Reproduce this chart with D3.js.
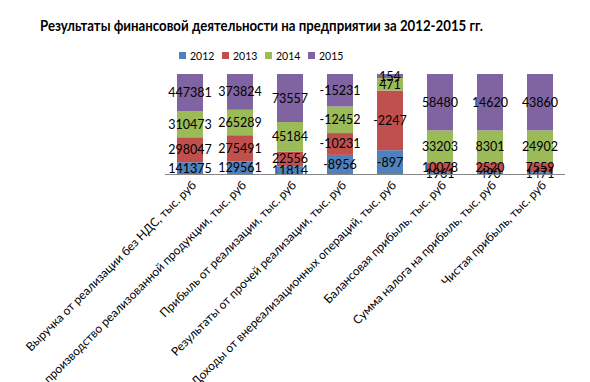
<!DOCTYPE html>
<html><head><meta charset="utf-8">
<script src="https://cdn.jsdelivr.net/npm/d3@7/dist/d3.min.js"></script>
<style>body{margin:0;background:#fff}svg{display:block}</style>
</head><body>
<svg id="c" width="590" height="382"></svg>
<script>
const categories = [
  "Выручка от реализации без НДС, тыс. руб",
  "Затраты на производство реализованной продукции, тыс. руб",
  "Прибыль от реализации, тыс. руб",
  "Результаты от прочей реализации, тыс. руб",
  "Доходы от внереализационных операций, тыс. руб",
  "Балансовая прибыль, тыс. руб",
  "Сумма налога на прибыль, тыс. руб",
  "Чистая прибыль, тыс. руб"
];
const years = ["2012", "2013", "2014", "2015"];
const v2012 = [141375, 129561, 11814, -8956, -897, 1961, 490, 1471];
const v2013 = [298047, 275491, 22556, -10231, -2247, 10078, 2520, 7559];
const v2014 = [310473, 265289, 45184, -12452, 471, 33203, 8301, 24902];
const v2015 = [447381, 373824, 73557, -15231, 154, 58480, 14620, 43860];
const seriesValues = [v2012, v2013, v2014, v2015];
const colors = ["#4F81BD", "#C0504D", "#9BBB59", "#8064A2"];
const title = "Результаты финансовой деятельности на предприятии за 2012-2015 гг.";

const svg = d3.select("#c");
const W = 590, H = 382;
const m = {left: 165, right: 25, top: 74, bottom: 208};
const x = d3.scaleBand().domain(categories).range([m.left, W - m.right]).paddingInner(0.48).paddingOuter(0.24);
const y = d3.scaleLinear().domain([0, 1]).range([H - m.bottom, m.top]);

// build stacked rows (100% of absolute values)
const rows = categories.map((c, i) => {
  const o = {cat: c};
  years.forEach((yr, k) => o[yr] = Math.abs(seriesValues[k][i]));
  return o;
});
const stack = d3.stack().keys(years).offset(d3.stackOffsetExpand);
const stacked = stack(rows);

const g = svg.append("g");
stacked.forEach((s, k) => {
  g.selectAll(null).data(s).enter().append("rect")
    .attr("x", d => x(d.data.cat))
    .attr("width", x.bandwidth())
    .attr("y", d => y(d[1]))
    .attr("height", d => y(d[0]) - y(d[1]))
    .attr("fill", colors[k]);
});
// axis line
svg.append("line").attr("x1", m.left).attr("x2", W - m.right)
  .attr("y1", y(0) + 0.5).attr("y2", y(0) + 0.5).attr("stroke", "#868686").attr("stroke-width", 1);

// value labels
stacked.forEach((s, k) => {
  g.selectAll(null).data(s).enter().append("text")
    .attr("x", (d) => x(d.data.cat) + x.bandwidth() / 2)
    .attr("y", d => (y(d[0]) + y(d[1])) / 2)
    .attr("dy", "0.36em")
    .attr("text-anchor", "middle")
    .attr("font-family", "Lato, 'Liberation Sans', sans-serif")
    .attr("font-size", 12.5)
    .attr("fill", "#000")
    .text((d, i) => seriesValues[k][i]);
});

// x labels
svg.selectAll(null).data(categories).enter().append("text")
  .attr("transform", d => `translate(${x(d) + x.bandwidth() / 2 + 1},${y(0) + 6}) rotate(-45)`)
  .attr("dy", "0.7em")
  .attr("text-anchor", "end")
  .attr("font-family", "Lato, 'Liberation Sans', sans-serif")
  .attr("font-size", 12)
  .attr("fill", "#000")
  .text(d => d);

// title
svg.append("text").attr("x", 40).attr("y", 31)
  .attr("font-family", "Lato, 'Liberation Sans', sans-serif").attr("font-weight", "bold")
  .attr("font-size", 15).attr("textLength", 443).attr("lengthAdjust", "spacingAndGlyphs")
  .attr("fill", "#000").text(title);

// legend
const lg = svg.append("g");
years.forEach((yr, k) => {
  const lx = 179 + k * 43;
  lg.append("rect").attr("x", lx).attr("y", 52).attr("width", 7).attr("height", 7).attr("fill", colors[k]);
  lg.append("text").attr("x", lx + 11).attr("y", 59.5)
    .attr("font-family", "Lato, 'Liberation Sans', sans-serif").attr("font-size", 10.5)
    .attr("fill", "#000").text(yr);
});
</script>
</body></html>
